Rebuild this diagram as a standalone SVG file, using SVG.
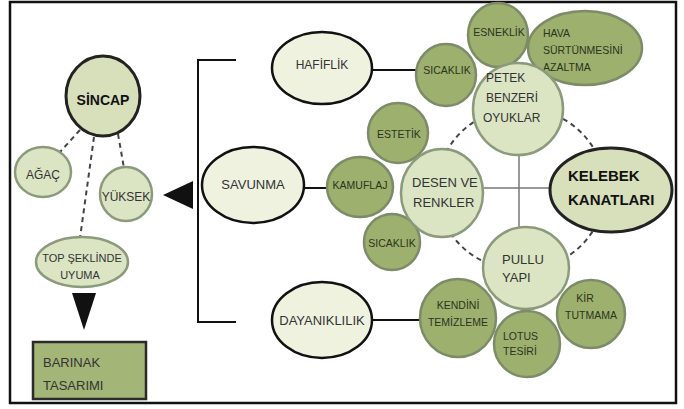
<svg xmlns="http://www.w3.org/2000/svg" width="684" height="409" viewBox="0 0 684 409">
<style>
text{font-family:"Liberation Sans",Arial,sans-serif;text-anchor:middle;fill:#333;}
.lt{fill:#dbe5c3;stroke:#8c9a7c;stroke-width:2.5;}
.dk{fill:#9db06e;stroke:#7d8b68;stroke-width:2.5;}
.el{fill:#eef2df;stroke:#111;stroke-width:2.5;}
.bl{fill:#d7e0bb;stroke:#222;stroke-width:3;}
.t13{font-size:13px;}
.t12{font-size:12px;}
.t11{font-size:11px;}
.t10{font-size:10.5px;fill:#2c3320;}
.s{text-anchor:start;}
.b{font-weight:bold;fill:#111;}
.dash{fill:none;stroke:#444;stroke-width:2;stroke-dasharray:5,4;}
.ln{stroke:#111;stroke-width:2;fill:none;}
.gl{stroke:#777;stroke-width:1.5;fill:none;}
</style>
<rect x="0" y="0" width="684" height="409" fill="#fff"/>
<rect x="10" y="2" width="666" height="401" fill="none" stroke="#111" stroke-width="2.5"/>
<g id="connectors">
<line class="dash" x1="80" y1="130" x2="60" y2="152"/>
<line class="dash" x1="118" y1="134" x2="124" y2="168"/>
<line class="dash" x1="94" y1="137" x2="80" y2="238"/>
<polygon points="72,293 96,293 84,330" fill="#111"/>
<polygon points="163,195 193,181 193,209" fill="#111"/>
<polyline class="ln" points="236,60 198,60 198,322 236,322"/>
<line class="ln" x1="372" y1="70" x2="425" y2="70"/>
<line class="ln" x1="303" y1="188" x2="328" y2="188"/>
<line class="ln" x1="372" y1="320" x2="421" y2="320"/>
<ellipse class="dash" cx="521" cy="189" rx="84" ry="81"/>
<line class="gl" x1="519" y1="154" x2="519" y2="228"/>
<line class="gl" x1="482" y1="188" x2="551" y2="188"/>
</g>
<g id="sincap"><ellipse class="bl" cx="103" cy="96" rx="37" ry="40"/><text class="b" x="103" y="105" font-size="14">SİNCAP</text></g>
<g id="agac"><ellipse class="lt" cx="43" cy="172" rx="28" ry="25"/><text class="t12" x="43" y="179">AĞAÇ</text></g>
<g id="yuksek"><ellipse class="lt" cx="126" cy="194" rx="26" ry="27"/><text class="t12" x="126" y="201">YÜKSEK</text></g>
<g id="top"><ellipse class="lt" cx="82" cy="262" rx="46" ry="25"/><text class="t11" x="82" y="262">TOP ŞEKLİNDE</text><text class="t11" x="80" y="279">UYUMA</text></g>
<g id="barinak"><rect x="33" y="342" width="113" height="57" fill="#a3b577" stroke="#2a2a2a" stroke-width="2.5"/><text class="t13 s" x="43" y="367">BARINAK</text><text class="t13 s" x="43" y="390">TASARIMI</text></g>
<g id="hafiflik"><ellipse class="el" cx="322" cy="68" rx="50" ry="36"/><text class="t12" x="322" y="69">HAFİFLİK</text></g>
<g id="savunma"><ellipse class="el" cx="253" cy="185" rx="51" ry="38"/><text class="t13" x="253" y="189">SAVUNMA</text></g>
<g id="dayaniklilik"><ellipse class="el" cx="322" cy="320" rx="50" ry="38"/><text class="t13" x="322" y="325">DAYANIKLILIK</text></g>
<g id="esneklik"><ellipse class="dk" cx="498" cy="35" rx="30" ry="32"/><text class="t10" x="499" y="36">ESNEKLİK</text></g>
<g id="hava"><ellipse class="dk" cx="585" cy="48" rx="57" ry="37"/><text class="t10 s" x="543" y="37">HAVA</text><text class="t10 s" x="543" y="54">SÜRTÜNMESİNİ</text><text class="t10 s" x="543" y="71">AZALTMA</text></g>
<g id="sicaklik1"><ellipse class="dk" cx="446" cy="75" rx="30" ry="31"/><text class="t10" x="447" y="74">SICAKLIK</text></g>
<g id="petek"><ellipse class="lt" cx="518" cy="109" rx="45" ry="46"/><text class="t12 s" x="486" y="82">PETEK</text><text class="t12 s" x="486" y="102">BENZERİ</text><text class="t12 s" x="483" y="122">OYUKLAR</text></g>
<g id="estetik"><ellipse class="dk" cx="398" cy="133" rx="30" ry="30"/><text class="t10" x="399" y="138">ESTETİK</text></g>
<g id="kamuflaj"><ellipse class="dk" cx="360" cy="187" rx="33" ry="30"/><text class="t10" x="360" y="189">KAMUFLAJ</text></g>
<g id="sicaklik2"><ellipse class="dk" cx="392" cy="242" rx="28" ry="28"/><text class="t10" x="392" y="247">SICAKLIK</text></g>
<g id="desen"><ellipse class="lt" cx="442" cy="193" rx="41" ry="44"/><text class="t13 s" x="412" y="187">DESEN VE</text><text class="t13 s" x="413" y="207">RENKLER</text></g>
<g id="kelebek"><ellipse class="bl" cx="611" cy="190" rx="61" ry="42"/><text class="b s" x="568" y="181" font-size="15">KELEBEK</text><text class="b s" x="568" y="205" font-size="15">KANATLARI</text></g>
<g id="pullu"><ellipse class="lt" cx="526" cy="268" rx="43" ry="41"/><text class="t13 s" x="502" y="264">PULLU</text><text class="t13 s" x="502" y="282">YAPI</text></g>
<g id="kendini"><ellipse class="dk" cx="458" cy="318" rx="38" ry="39"/><text class="t10" x="458" y="309">KENDİNİ</text><text class="t10" x="458" y="326" font-size="11">TEMİZLEME</text></g>
<g id="lotus"><ellipse class="dk" cx="527" cy="344" rx="33" ry="33"/><text class="t10 s" x="503" y="340">LOTUS</text><text class="t10 s" x="503" y="355">TESİRİ</text></g>
<g id="kir"><ellipse class="dk" cx="591" cy="314" rx="34" ry="34"/><text class="t10" x="585" y="302">KİR</text><text class="t10" x="591" y="319" font-size="11">TUTMAMA</text></g>
</svg>
